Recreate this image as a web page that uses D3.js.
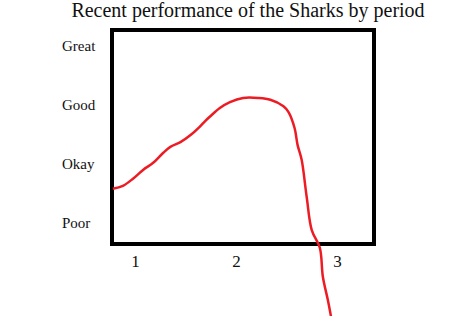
<!DOCTYPE html>
<html>
<head>
<meta charset="utf-8">
<script src="https://cdn.jsdelivr.net/npm/d3@7"></script>
<style>
  body { margin: 0; background: #fff; }
  text { font-family: "Liberation Serif", "DejaVu Serif", serif; fill: #111; }
</style>
</head>
<body>
<div id="chart"></div>
<script>
// hand-drawn line
var periods = [0.78, 0.88, 0.98, 1.08, 1.18, 1.28, 1.35, 1.45, 1.55, 1.64, 1.69, 1.74, 1.84,
  1.94, 2.07, 2.22, 2.34, 2.47, 2.52, 2.58, 2.61, 2.65, 2.70, 2.75, 2.83, 2.86, 2.91, 2.94];
var performance = [1.58, 1.63, 1.75, 1.90, 2.02, 2.19, 2.29, 2.37, 2.49, 2.63, 2.72, 2.80, 2.95,
  3.05, 3.12, 3.12, 3.09, 2.98, 2.88, 2.61, 2.32, 2.07, 1.44, 0.88, 0.58, 0.09, -0.31, -0.58];
var levelLabels = ["Poor", "Okay", "Good", "Great"];
var periodTicks = [1, 2, 3];
var title = "Recent performance of the Sharks by period";

var width = 474, height = 316;

var svg = d3.select("#chart").append("svg")
  .attr("width", width)
  .attr("height", height);

var xScale = d3.scaleLinear().domain([1, 3]).range([135, 337]);
var yScale = d3.scaleLinear().domain([1, 4]).range([223, 46]);

// title
svg.append("text")
  .attr("x", 248)
  .attr("y", 17)
  .attr("text-anchor", "middle")
  .style("font-size", "20px")
  .text(title);

// box
svg.append("rect")
  .attr("x", 112)
  .attr("y", 30)
  .attr("width", 262)
  .attr("height", 214)
  .attr("fill", "none")
  .attr("stroke", "#000")
  .attr("stroke-width", 4);

// y axis - words only
var yAxis = d3.axisLeft(yScale)
  .tickValues([1, 2, 3, 4])
  .tickFormat(function(d) { return levelLabels[d - 1]; })
  .tickSize(0);

var yg = svg.append("g")
  .attr("transform", "translate(62,0)")
  .call(yAxis);
yg.select(".domain").remove();
yg.selectAll("text")
  .attr("x", 0)
  .style("text-anchor", "start")
  .style("font-size", "15px")
  .style("font-family", "Liberation Serif, serif")
  .attr("fill", "#111");

// x axis
var xAxis = d3.axisBottom(xScale)
  .tickValues(periodTicks)
  .tickFormat(d3.format("d"))
  .tickSize(0);

var xg = svg.append("g")
  .attr("transform", "translate(0,251)")
  .call(xAxis);
xg.select(".domain").remove();
xg.selectAll("text")
  .attr("y", 4)
  .style("font-size", "17px")
  .style("font-family", "Liberation Serif, serif")
  .attr("fill", "#111");

// the line
var pts = periods.map(function(p, i) { return [p, performance[i]]; });

var line = d3.line()
  .x(function(d) { return xScale(d[0]); })
  .y(function(d) { return yScale(d[1]); })
  .curve(d3.curveCatmullRom);

svg.append("path")
  .datum(pts)
  .attr("d", line)
  .attr("fill", "none")
  .attr("stroke", "#ed1c24")
  .attr("stroke-width", 2.5)
  .attr("stroke-linejoin", "round");
</script>
</body>
</html>
